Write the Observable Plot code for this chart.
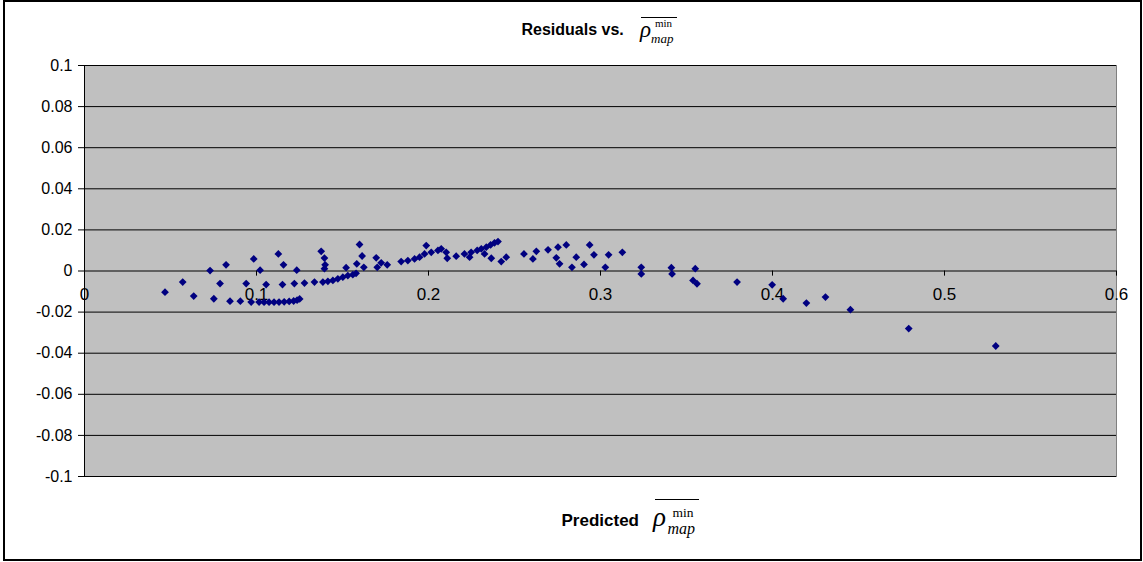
<!DOCTYPE html>
<html><head><meta charset="utf-8">
<script src="https://cdn.jsdelivr.net/npm/d3@7"></script>
<script src="https://cdn.jsdelivr.net/npm/@observablehq/plot@0.6"></script>
<style>
body{margin:0;background:#fff;}
#wrap{position:relative;width:1143px;height:562px;overflow:hidden;}
#border{position:absolute;left:3px;top:0;width:1135px;height:557px;border:2px solid #000;}
#wrap svg{position:absolute;left:0;top:0;}
</style></head><body>
<div id="wrap"><div id="border"></div></div>
<script>
const predicted = [
0.0468,0.0571,0.0635,0.0730,0.0752,0.0788,0.0823,0.0846,0.0906,0.0940,0.0969,0.0984,0.1021,0.1015,0.1044,0.1056,0.1073,0.1102,0.1127,0.1131,0.1151,0.1157,0.1161,0.1190,0.1216,0.1220,0.1234,0.1236,0.1251,
0.1279,0.1337,0.1376,0.1386,0.1395,0.1399,0.1395,0.1415,0.1444,0.1473,0.1502,0.1521,0.1531,0.1560,0.1579,0.1583,0.1599,0.1614,0.1624,
0.1696,0.1702,0.1725,0.1760,0.1841,0.1880,0.1919,0.1948,0.1977,0.1987,0.2016,0.2055,0.2074,0.2103,0.2109,0.2161,0.2209,0.2239,0.2248,0.2283,0.2307,0.2326,0.2336,0.2361,0.2365,0.2384,0.2404,0.2423,0.2452,
0.2555,0.2607,0.2627,0.2695,0.2743,0.2753,0.2762,0.2801,0.2834,0.2859,0.2904,0.2937,0.2962,0.3028,0.3047,0.3127,0.3237,0.3237,0.3412,0.3416,0.3538,0.3551,0.3561,0.3794,0.3998,0.4062,0.4197,0.4308,0.4453,0.4792,0.5298];
const residuals = [
-0.0103,-0.0054,-0.0122,0.0002,-0.0135,-0.0061,0.0030,-0.0147,-0.0147,-0.0061,-0.0151,0.0059,0.0004,-0.0151,-0.0152,-0.0066,-0.0152,-0.0152,0.0083,-0.0151,-0.0066,0.0030,-0.0150,-0.0148,-0.0146,-0.0061,0.0004,-0.0142,-0.0136,
-0.0059,-0.0054,0.0096,-0.0054,0.0063,0.0030,0.0011,-0.0050,-0.0046,-0.0038,-0.0030,0.0016,-0.0022,-0.0018,-0.0011,0.0035,0.0129,0.0073,0.0018,
0.0064,0.0018,0.0040,0.0030,0.0046,0.0051,0.0059,0.0067,0.0083,0.0124,0.0091,0.0100,0.0108,0.0091,0.0062,0.0072,0.0083,0.0067,0.0091,0.0100,0.0108,0.0083,0.0116,0.0127,0.0062,0.0137,0.0143,0.0046,0.0067,
0.0083,0.0059,0.0096,0.0103,0.0064,0.0116,0.0035,0.0127,0.0018,0.0067,0.0032,0.0127,0.0079,0.0018,0.0079,0.0091,0.0018,-0.0014,0.0016,-0.0014,-0.0046,0.0011,-0.0062,-0.0054,-0.0067,-0.0135,-0.0156,-0.0127,-0.0188,-0.0280,-0.0365];
const xTicks = [0, 0.1, 0.2, 0.3, 0.4, 0.5, 0.6];
const yTicks = [-0.1, -0.08, -0.06, -0.04, -0.02, 0, 0.02, 0.04, 0.06, 0.08, 0.1];
const titleText = "Residuals vs.";
const xLabelText = "Predicted";

const data = predicted.map((x, i) => ({x, y: residuals[i]}));
const fmt = d => d === 0 ? "0" : String(+d.toFixed(2));
const diamond = {draw(ctx, size) {
  const h = Math.sqrt(size / 2);
  ctx.moveTo(0, -h); ctx.lineTo(h, 0); ctx.lineTo(0, h); ctx.lineTo(-h, 0); ctx.closePath();
}};

const chart = Plot.plot({
  width: 1143, height: 562,
  marginLeft: 84, marginRight: 27, marginTop: 65, marginBottom: 86,
  x: {domain: [0, 0.6], axis: null},
  y: {domain: [-0.1, 0.1]},
  style: {fontFamily: "'Liberation Sans', Arial, sans-serif", fontSize: "16px", color: "#000", background: "transparent", overflow: "visible"},
  marks: [
    Plot.frame({fill: "#c0c0c0", stroke: "#808080"}),
    Plot.ruleY(yTicks, {stroke: "#000"}),
    Plot.axisY(yTicks, {tickSize: 6, tickPadding: 6, tickFormat: fmt, label: null, fontSize: 16}),
    Plot.ruleX([0], {stroke: "#000"}),
    Plot.ruleX(xTicks, {x: d => d, y1: 0, y2: -0.0025, stroke: "#000"}),
    Plot.text(xTicks, {x: d => d, y: 0, text: fmt, dy: 24, fontSize: 17, fill: "#000"}),
    Plot.dot(data, {x: "x", y: "y", symbol: diamond, r: 3.1, fill: "#000080", stroke: "none"})
  ]
});
const wrap = document.getElementById("wrap");
wrap.appendChild(chart);

// overlay for title and axis label with the rho-bar symbol
const ov = d3.select(wrap).append("svg").attr("width", 1143).attr("height", 562);
function rhoLabel(text, tx, tBase, tSize, rx, rBase, rSize, supX, supBase, supSize, subX, subBase, subSize, barY, barX1, barX2) {
  ov.append("text").attr("x", tx).attr("y", tBase).attr("font-family", "'Liberation Sans', Arial, sans-serif")
    .attr("font-weight", "bold").attr("font-size", tSize).text(text);
  ov.append("text").attr("x", rx).attr("y", rBase).attr("font-family", "'Liberation Serif', 'Times New Roman', serif")
    .attr("font-style", "italic").attr("font-size", rSize).text("ρ");
  ov.append("text").attr("x", supX).attr("y", supBase).attr("font-family", "'Liberation Serif', 'Times New Roman', serif")
    .attr("font-size", supSize).text("min");
  ov.append("text").attr("x", subX).attr("y", subBase).attr("font-family", "'Liberation Serif', 'Times New Roman', serif")
    .attr("font-style", "italic").attr("font-size", subSize).text("map");
  ov.append("line").attr("x1", barX1).attr("x2", barX2).attr("y1", barY).attr("y2", barY).attr("stroke", "#000").attr("stroke-width", 1);
}
rhoLabel(titleText, 521.5, 35, 16, 640, 37, 23, 655, 27, 11, 651, 43, 13, 17.5, 641, 677);
rhoLabel(xLabelText, 561.5, 526, 17, 653, 526, 27, 672.5, 517, 13.5, 667.5, 534, 16, 499.5, 655, 699);
</script>
</body></html>
